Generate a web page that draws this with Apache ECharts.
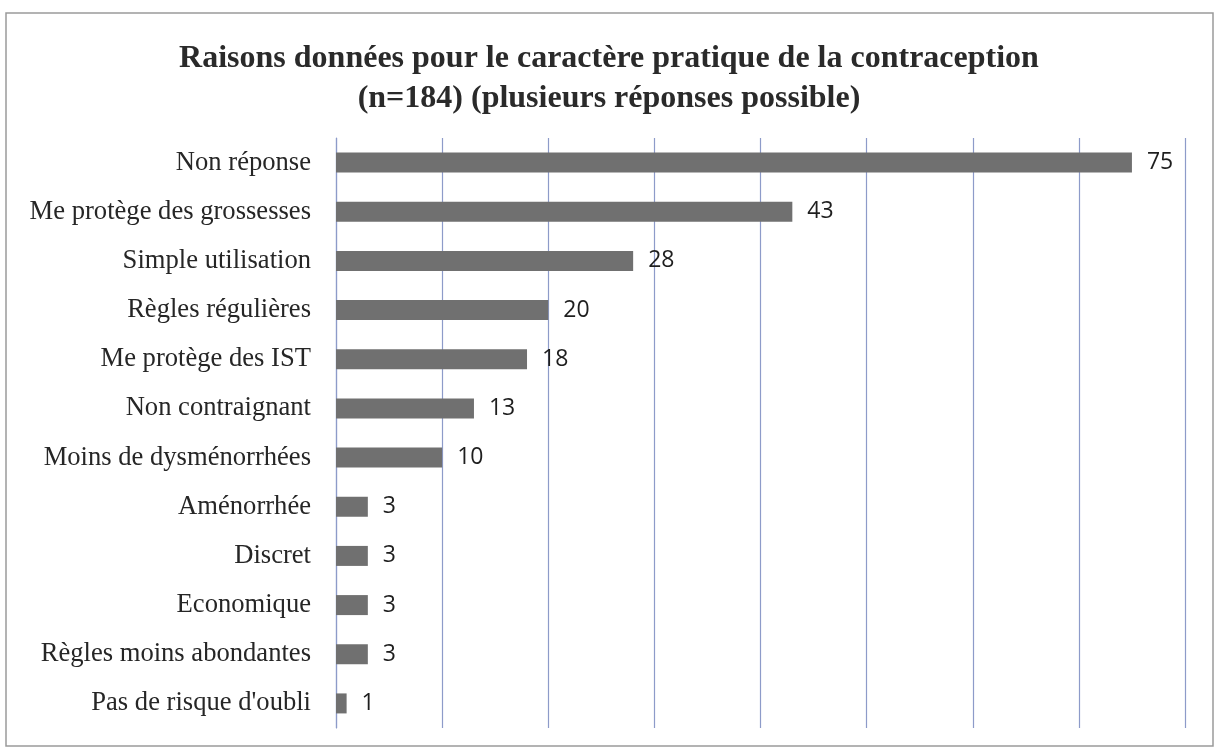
<!DOCTYPE html>
<html>
<head>
<meta charset="utf-8">
<title>Raisons données</title>
<script src="https://cdn.jsdelivr.net/npm/echarts@6/dist/echarts.min.js"></script>
<style>
  html, body { margin: 0; padding: 0; background: #fff; }
  #main { width: 1218px; height: 756px; }
</style>
</head>
<body>
<div id="main"></div>
<script>
// categories from top to bottom
var categories = [
  'Non réponse',
  'Me protège des grossesses',
  'Simple utilisation',
  'Règles régulières',
  'Me protège des IST',
  'Non contraignant',
  'Moins de dysménorrhées',
  'Aménorrhée',
  'Discret',
  'Economique',
  'Règles moins abondantes',
  "Pas de risque d'oubli"
];
var counts = [75, 43, 28, 20, 18, 13, 10, 3, 3, 3, 3, 1];

var chart = echarts.init(document.getElementById('main'));
chart.setOption({
  backgroundColor: '#fff',
  animation: false,
  title: {
    text: 'Raisons données pour le caractère pratique de la contraception\n(n=184) (plusieurs réponses possible)',
    left: 'center',
    top: 34,
    textStyle: {
      fontFamily: 'Liberation Serif',
      fontWeight: 'bold',
      fontSize: 32,
      lineHeight: 40,
      color: '#2a2a2a'
    }
  },
  graphic: [{
    type: 'rect',
    shape: { x: 6, y: 13, width: 1207, height: 733 },
    style: { fill: 'none', stroke: '#9a9a9a', lineWidth: 1.5 },
    silent: true
  }],
  grid: { left: 336, right: 33, top: 138, bottom: 28, containLabel: false },
  xAxis: {
    type: 'value',
    min: 0,
    max: 80,
    interval: 10,
    axisLabel: { show: false },
    axisTick: { show: false },
    axisLine: { show: false },
    splitLine: { lineStyle: { color: '#8d9bc9', width: 1.2 } }
  },
  yAxis: {
    type: 'category',
    inverse: true,
    data: categories,
    axisTick: { show: false },
    axisLine: { show: true, lineStyle: { color: '#8d9bc9', width: 1.2 } },
    axisLabel: {
      margin: 25,
      fontFamily: 'Liberation Serif',
      fontSize: 26.6,
      color: '#262626'
    }
  },
  series: [{
    type: 'bar',
    data: counts,
    barWidth: 20,
    itemStyle: { color: '#707070' },
    label: {
      show: true,
      position: 'right',
      distance: 15,
      fontFamily: 'Open Sans',
      fontSize: 23,
      color: '#1e1e1e'
    }
  }]
});
</script>
</body>
</html>
